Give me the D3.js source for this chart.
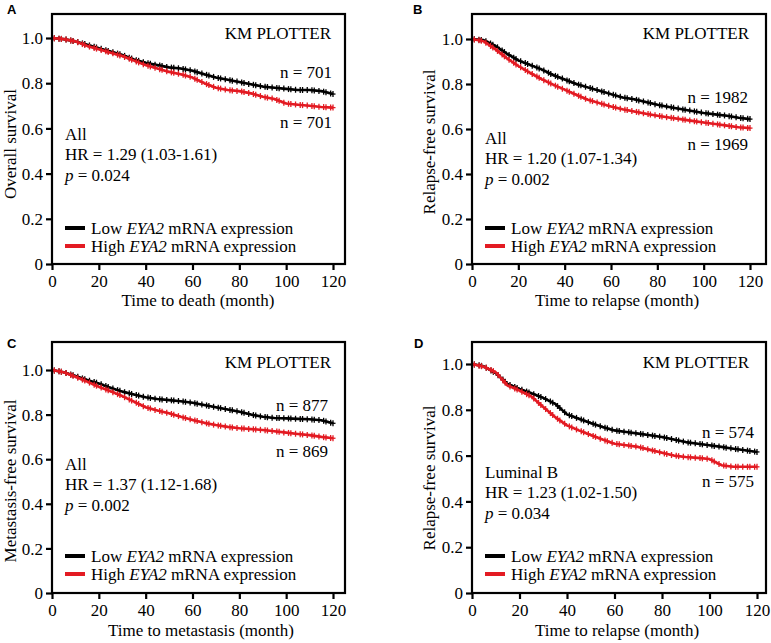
<!DOCTYPE html>
<html><head><meta charset="utf-8">
<script src="https://cdn.jsdelivr.net/npm/d3@7"></script>
<style>
html,body{margin:0;padding:0;background:#fff;}
svg{display:block;}
text{font-family:"Liberation Serif","Times New Roman",serif;fill:#000;}
</style></head>
<body>
<svg id="chart" width="771" height="643"></svg>
<script>
// ---------------- DATA ----------------
const months = [0,5,10,15,20,25,30,35,40,45,50,55,60,65,70,75,80,85,90,95,100,105,110,115,120];
const xTicks = [0,20,40,60,80,100,120];
const yTicks = [0,0.2,0.4,0.6,0.8,1.0];
const yTickLabels = ["0","0.2","0.4","0.6","0.8","1.0"];
const censorMonths = [1,3,4,6,8,9,11,13,14,16,18,19,21,23,24,26,28,29,31,33,34,36,37,39,41,42,44,46,47,49,51,52,54,56,57,59,61,62,64,66,67,69,71,72,74,76,77,79,81,82,84,86,87,89,91,92,94,96,97,99,101,102,104,106,107,109,111,112,114,116,117,119,120];

const lowA  = [1.0,0.995,0.985,0.97,0.955,0.94,0.925,0.905,0.89,0.88,0.87,0.865,0.855,0.84,0.825,0.815,0.805,0.795,0.785,0.78,0.775,0.77,0.77,0.765,0.752];
const highA = [1.0,0.995,0.985,0.965,0.95,0.935,0.92,0.9,0.88,0.865,0.85,0.84,0.825,0.8,0.78,0.77,0.765,0.755,0.74,0.73,0.71,0.705,0.70,0.695,0.692];
const lowB  = [1.0,0.995,0.97,0.935,0.905,0.885,0.865,0.84,0.82,0.80,0.785,0.77,0.755,0.74,0.732,0.72,0.708,0.698,0.689,0.68,0.671,0.665,0.659,0.65,0.644];
const highB = [1.0,0.99,0.955,0.915,0.88,0.85,0.822,0.797,0.775,0.752,0.73,0.715,0.70,0.688,0.678,0.668,0.659,0.651,0.644,0.636,0.629,0.622,0.615,0.608,0.604];
const lowC  = [1.0,0.99,0.973,0.955,0.94,0.92,0.903,0.89,0.878,0.87,0.865,0.86,0.853,0.843,0.833,0.823,0.813,0.80,0.79,0.785,0.783,0.781,0.779,0.775,0.761];
const highC = [1.0,0.99,0.97,0.948,0.925,0.905,0.883,0.858,0.833,0.818,0.806,0.79,0.776,0.763,0.753,0.745,0.739,0.735,0.731,0.725,0.719,0.713,0.708,0.70,0.694];
const lowD  = [1.0,0.99,0.96,0.913,0.891,0.872,0.852,0.826,0.78,0.761,0.742,0.725,0.71,0.703,0.696,0.689,0.681,0.67,0.659,0.652,0.645,0.638,0.63,0.623,0.616];
const highD = [1.0,0.988,0.964,0.906,0.884,0.858,0.812,0.768,0.732,0.71,0.69,0.67,0.652,0.645,0.638,0.625,0.612,0.60,0.594,0.59,0.585,0.558,0.551,0.551,0.551];

const panelLetters = ["A","B","C","D"];
const yTitles = ["Overall survival","Relapse-free survival","Metastasis-free survival","Relapse-free survival"];
const xTitles = ["Time to death (month)","Time to relapse (month)","Time to metastasis (month)","Time to relapse (month)"];
const cohorts = ["All","All","All","Luminal B"];
const hrTexts = ["HR = 1.29 (1.03-1.61)","HR = 1.20 (1.07-1.34)","HR = 1.37 (1.12-1.68)","HR = 1.23 (1.02-1.50)"];
const pTexts = ["0.024","0.002","0.002","0.034"];
const nLow = [701,1982,877,574];
const nHigh = [701,1969,869,575];
const lowSeries = [lowA,lowB,lowC,lowD];
const highSeries = [highA,highB,highC,highD];

// ---------------- LAYOUT ----------------
const layout = [
  {left:52,right:345,top:14,y0:264,y1:38,x120:333, nLowY:78,nHighY:128,nRight:332, infoY:140, legY:228, yTitleX:16, yTitleY:144, xTitleX:198, titleY:306, letterX:7,letterY:14},
  {left:472,right:766,top:14,y0:264,y1:39,x120:750, nLowY:103,nHighY:150,nRight:748, infoY:144, legY:228, yTitleX:435, yTitleY:142, xTitleX:617, titleY:306, letterX:413,letterY:14},
  {left:52,right:345,top:342,y0:593,y1:370,x120:333, nLowY:411,nHighY:457,nRight:328, infoY:470, legY:556, yTitleX:16, yTitleY:481, xTitleX:201, titleY:636, letterX:7,letterY:348},
  {left:472,right:766,top:342,y0:593,y1:364,x120:757, nLowY:438,nHighY:487,nRight:754, infoY:478, legY:556, yTitleX:435, yTitleY:478, xTitleX:617, titleY:636, letterX:414,letterY:348}
];
const RED = "#e31b23";
const FS = 17;

const svg = d3.select("#chart");

function interp(series, t){
  const f = d3.scaleLinear().domain(months).range(series);
  return f(t);
}

layout.forEach((L,i)=>{
  const x = d3.scaleLinear().domain([0,120]).range([L.left, L.x120]);
  const y = d3.scaleLinear().domain([0,1]).range([L.y0, L.y1]);
  const g = svg.append("g");

  // panel letter
  g.append("text").attr("x",L.letterX).attr("y",L.letterY)
    .style("font-family","'Liberation Sans',Arial,sans-serif").style("font-weight","bold")
    .style("font-size","13px").text(panelLetters[i]);

  // curves
  const line = d3.line().x((d,j)=>x(months[j])).y(d=>y(d));
  [[lowSeries[i],"#000"],[highSeries[i],RED]].forEach(([s,c])=>{
    g.append("path").datum(s).attr("d",line).attr("fill","none")
      .attr("stroke",c).attr("stroke-width",2.6).attr("stroke-linejoin","round");
    const marks = g.append("g").attr("stroke",c).attr("stroke-width",1.3);
    censorMonths.forEach(t=>{
      const cx = x(t), cy = y(interp(s,t));
      marks.append("line").attr("x1",cx-2.5).attr("x2",cx+2.5).attr("y1",cy).attr("y2",cy);
      marks.append("line").attr("x1",cx).attr("x2",cx).attr("y1",cy-3).attr("y2",cy+3);
    });
  });

  // frame
  g.append("rect").attr("x",L.left).attr("y",L.top)
    .attr("width",L.right-L.left).attr("height",L.y0-L.top)
    .attr("fill","none").attr("stroke","#000").attr("stroke-width",2.2);

  // x axis
  const xa = g.append("g").attr("transform",`translate(0,${L.y0})`)
    .call(d3.axisBottom(x).tickValues(xTicks).tickSize(6).tickFormat(d3.format("d")));
  xa.select(".domain").remove();
  xa.selectAll(".tick line").attr("stroke","#000").attr("stroke-width",2.2);
  xa.selectAll(".tick text").attr("y",23).attr("dy",0).style("font-size",FS+"px")
    .style("font-family","'Liberation Serif',serif").attr("fill","#000");

  // y axis
  const ya = g.append("g").attr("transform",`translate(${L.left},0)`)
    .call(d3.axisLeft(y).tickValues(yTicks).tickSize(6).tickFormat((d,j)=>yTickLabels[j]));
  ya.select(".domain").remove();
  ya.selectAll(".tick line").attr("stroke","#000").attr("stroke-width",2.2);
  ya.selectAll(".tick text").attr("x",-9).attr("dy","0.34em").style("font-size",FS+"px")
    .style("font-family","'Liberation Serif',serif").attr("fill","#000");

  // axis titles
  g.append("text").attr("x",L.xTitleX).attr("y",L.titleY).attr("text-anchor","middle")
    .style("font-size",FS+"px").text(xTitles[i]);
  g.append("text").attr("transform",`translate(${L.yTitleX},${L.yTitleY}) rotate(-90)`)
    .attr("text-anchor","middle").style("font-size",FS+"px").text(yTitles[i]);

  // KM PLOTTER
  const kmRight = (i%2===0)?331:749;
  g.append("text").attr("x",kmRight).attr("y",L.top===14?39:368).attr("text-anchor","end")
    .style("font-size",FS+"px").text("KM PLOTTER");

  // n labels
  g.append("text").attr("x",L.nRight).attr("y",L.nLowY).attr("text-anchor","end")
    .style("font-size",FS+"px").text("n = "+nLow[i]);
  g.append("text").attr("x",L.nRight).attr("y",L.nHighY).attr("text-anchor","end")
    .style("font-size",FS+"px").text("n = "+nHigh[i]);

  // info block
  const ix = L.left+13;
  g.append("text").attr("x",ix).attr("y",L.infoY).style("font-size",FS+"px").text(cohorts[i]);
  g.append("text").attr("x",ix).attr("y",L.infoY+20).style("font-size",FS+"px").text(hrTexts[i]);
  const pt = g.append("text").attr("x",ix).attr("y",L.infoY+41).style("font-size",FS+"px");
  pt.append("tspan").style("font-style","italic").text("p");
  pt.append("tspan").text(" = "+pTexts[i]);

  // legend
  [["Low ","#000",0],["High ",RED,18]].forEach(([lab,c,off])=>{
    const ly = L.legY+off;
    g.append("line").attr("x1",L.left+13).attr("x2",L.left+33).attr("y1",ly).attr("y2",ly)
      .attr("stroke",c).attr("stroke-width",4);
    const t = g.append("text").attr("x",L.left+39).attr("y",ly+5.5).style("font-size",FS+"px");
    t.append("tspan").text(lab);
    t.append("tspan").style("font-style","italic").text("EYA2");
    t.append("tspan").text(" mRNA expression");
  });
});
</script>
</body></html>
